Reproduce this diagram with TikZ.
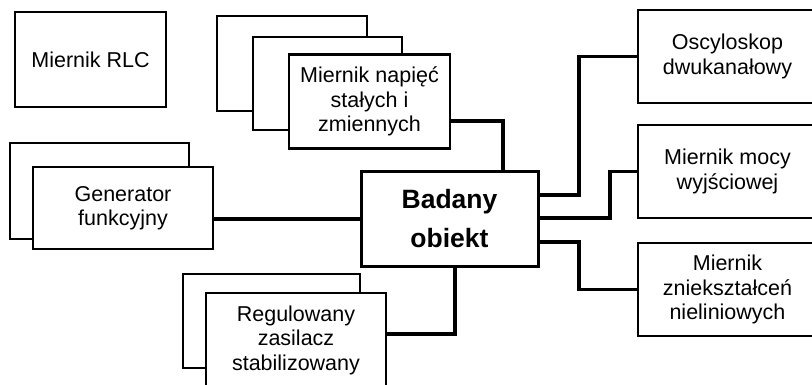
\documentclass[tikz,border=0pt]{standalone}
\usepackage{fontspec}
\setmainfont{Liberation Sans}
\usetikzlibrary{calc}
\begin{document}
\begin{tikzpicture}[x=1pt,y=-1pt,
  box/.style={draw=black,line width=2.2pt,fill=white,inner sep=0pt,align=center,
    font=\fontsize{21.5}{24.5}\selectfont},
  mainbox/.style={draw=black,line width=3pt,fill=white,inner sep=0pt,align=center,
    font=\fontsize{26.5}{39}\selectfont\bfseries},
  wire/.style={draw=black,line width=3.2pt}]
\useasboundingbox (0,0) rectangle (812,385);
\clip (0,0) rectangle (812,385);

% stand-alone meter
\node[box,minimum width=151pt,minimum height=95pt] (rlc) at (90.5,59.5) {Miernik RLC};

% stacked voltmeters
\node[box,minimum width=150pt,minimum height=95pt] (napC) at (292.3,63.5) {};
\node[box,minimum width=149pt,minimum height=93pt] (napB) at (327.8,83.5) {};
\node[box,minimum width=161pt,minimum height=94pt] (nap) at (369.5,101.5) {Miernik napięć\\stałych i\\zmiennych};

% stacked generators
\node[box,minimum width=179pt,minimum height=96pt] (genB) at (99.5,191) {};
\node[box,minimum width=180pt,minimum height=82pt] (gen) at (123,208) {Generator\\funkcyjny};

% stacked power supplies
\node[box,minimum width=177pt,minimum height=94pt] (regB) at (271.5,321) {};
\node[box,minimum width=180pt,minimum height=94pt] (reg) at (296,340) {Regulowany\\zasilacz\\stabilizowany};

% device under test
\node[mainbox,minimum width=177pt,minimum height=94pt] (obj) at (449.5,219) {Badany\\obiekt};

% instruments on the output side
\node[box,minimum width=179pt,minimum height=93pt] (osc) at (727.5,56.5) {Oscyloskop\\dwukanałowy};
\node[box,minimum width=179pt,minimum height=93pt] (moc) at (727.5,171.5) {Miernik mocy\\wyjściowej};
\node[box,minimum width=179pt,minimum height=93pt] (znl) at (727.5,289.5) {Miernik\\zniekształceń\\nieliniowych};

% connections
\draw[wire] (nap.east |- 0,121) -| (obj.north -| 503,0);
\draw[wire] (gen.east |- obj.west) -- (obj.west);
\draw[wire] (reg.east |- 0,334) -| (obj.south -| 455,0);
\draw[wire] (obj.east |- 0,195) -- (579,195) |- (osc.west);
\draw[wire] (obj.east |- 0,218) -- (610,218) |- (moc.west);
\draw[wire] (obj.east |- 0,242) -- (579,242) |- (znl.west);
\end{tikzpicture}
\end{document}
